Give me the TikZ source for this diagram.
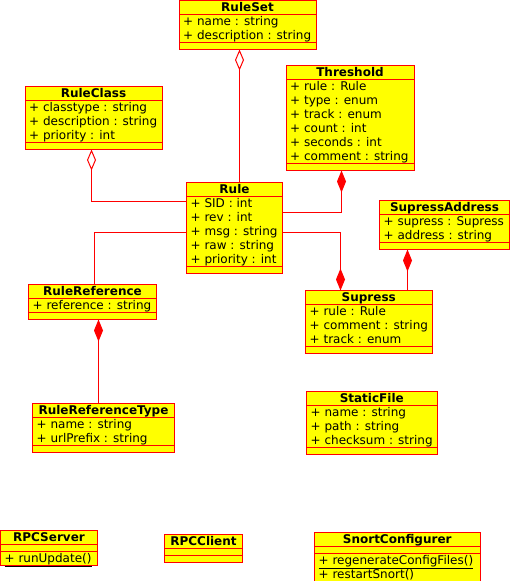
\documentclass[tikz,border=0pt]{standalone}
\usepackage{fontspec}
\setmainfont{DejaVu Sans}
\usetikzlibrary{arrows.meta}

\definecolor{umlfill}{RGB}{255,255,0}
\definecolor{umlline}{RGB}{255,0,0}

\tikzset{
  classbox/.style={rectangle, draw=umlline, fill=umlfill, line width=1bp, inner sep=0pt, outer sep=0pt},
  classrule/.style={draw=umlline, line width=1bp},
  classtitle/.style={anchor=base, inner sep=0pt, font=\bfseries\fontsize{12bp}{14bp}\selectfont},
  classrow/.style={anchor=base west, inner sep=0pt, font=\fontsize{12bp}{14bp}\selectfont},
  link/.style={draw=umlline, line width=1bp},
  aggr/.style={link, -{Diamond[open, length=21bp, width=9bp]}},
  comp/.style={link, -{Diamond[length=22bp, width=9bp]}},
}

% #1 name, #2 left, #3 top, #4 right, #5 title, #6 attribute rows, #7 operation rows
\newcommand\umlclass[7]{%
  \pgfmathsetmacro\clsA{#3+14}%
  \pgfmathsetmacro\clsB{\clsA+(#6>0)*14*#6+(#6==0)*7}%
  \pgfmathsetmacro\clsC{\clsB+(#7>0)*14*#7+(#7==0)*7}%
  \pgfmathsetmacro\clsW{#4-#2}%
  \pgfmathsetmacro\clsH{\clsC-#3}%
  \node[classbox, minimum width=\clsW bp, minimum height=\clsH bp, anchor=north west] (#1) at (#2,#3) {};
  \draw[classrule] (#2,\clsA) -- (#4,\clsA) (#2,\clsB) -- (#4,\clsB);
  \node[classtitle] at ({(#2+#4)/2},#3+11) {#5};
}

% #1 class node, #2 first baseline below the top edge, #3 rows
\newcommand\umlrows[3]{%
  \foreach \r [count=\i from 0] in {#3} {
    \node[classrow] at ([shift={(4,#2+14*\i)}]#1.north west) {\r};
  }%
}

\begin{document}
\begin{tikzpicture}[x=1bp, y=-1bp]
  \useasboundingbox (0,0) rectangle (510,581);
  \clip (0,0) rectangle (510,581);

  % classes
  \umlclass{ruleset}{179}{0.5}{316}{RuleSet}{2}{0}
  \umlrows{ruleset}{25}{+ name : string, + description : string}

  \umlclass{ruleclass}{25}{86.5}{162}{RuleClass}{3}{0}
  \umlrows{ruleclass}{25}{+ classtype : string, + description : string, + priority : int}

  \umlclass{threshold}{286}{65.5}{414}{Threshold}{6}{0}
  \umlrows{threshold}{25}{+ rule : Rule, + type : enum, + track : enum, + count : int, + seconds : int, + comment : string}

  \umlclass{rule}{186.5}{182.5}{282.5}{Rule}{5}{0}
  \umlrows{rule}{25}{+ SID : int, + rev : int, + msg : string, + raw : string, + priority : int}

  \umlclass{supressaddress}{379.5}{200.5}{509.5}{SupressAddress}{2}{0}
  \umlrows{supressaddress}{25}{+ supress : Supress, + address : string}

  \umlclass{supress}{305.5}{290.5}{432}{Supress}{3}{0}
  \umlrows{supress}{25}{+ rule : Rule, + comment : string, + track : enum}

  \umlclass{rulereference}{28.5}{284.5}{156.5}{RuleReference}{1}{0}
  \umlrows{rulereference}{25}{+ reference : string}

  \umlclass{rulereferencetype}{32.5}{403.5}{174.5}{RuleReferenceType}{2}{0}
  \umlrows{rulereferencetype}{25}{+ name : string, + urlPrefix : string}

  \umlclass{staticfile}{306.5}{391.5}{437}{StaticFile}{3}{0}
  \umlrows{staticfile}{25}{+ name : string, + path : string, + checksum : string}

  \umlclass{rpcserver}{0.5}{530.5}{97.5}{RPCServer}{0}{1}
  \umlrows{rpcserver}{32}{\underline{+ runUpdate()}}

  \umlclass{rpcclient}{164.5}{534.5}{242.5}{RPCClient}{0}{0}

  \umlclass{snortconfigurer}{314.5}{532.5}{480}{SnortConfigurer}{0}{2}
  \umlrows{snortconfigurer}{32}{\underline{+ regenerateConfigFiles()}, \underline{+ restartSnort()}}

  % connector end points on the class edges
  \coordinate (a1) at ([xshift=60.5bp]ruleset.south west);
  \coordinate (a2) at ([xshift=66.5bp]ruleclass.south west);
  \coordinate (a3) at ([xshift=55.5bp]threshold.south west);
  \coordinate (a4) at ([xshift=35bp]supress.north west);
  \coordinate (a5) at ([xshift=66bp]rulereference.north west);
  \coordinate (a6) at ([xshift=70bp]rulereference.south west);
  \coordinate (a7) at ([xshift=28bp]supressaddress.south west);

  % associations
  \draw[aggr] (rule.north -| a1) -- (a1);
  \draw[aggr] ([yshift=-19bp]rule.north west) -| (a2);
  \draw[comp] ([yshift=-30bp]rule.north east) -| (a3);
  \draw[comp] ([yshift=-50bp]rule.north east) -| (a4);
  \draw[link] ([yshift=-50bp]rule.north west) -| (a5);
  \draw[comp] (rulereferencetype.north -| a6) -- (a6);
  \draw[comp] (supress.north -| a7) -- (a7);
\end{tikzpicture}
\end{document}
